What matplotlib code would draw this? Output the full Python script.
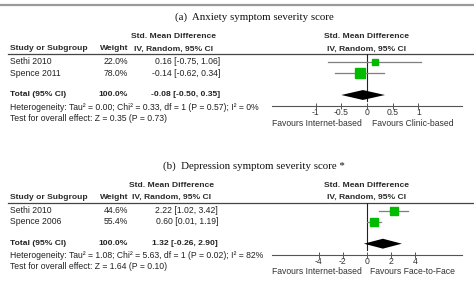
import matplotlib
matplotlib.use("Agg")
import matplotlib.pyplot as plt

# ---- data ----
a_studies = ["Sethi 2010", "Spence 2011"]
a_weights = [22.0, 78.0]
a_est = [0.16, -0.14]
a_lo = [-0.75, -0.62]
a_hi = [1.06, 0.34]
a_total = (-0.08, -0.50, 0.35)
a_het = "Heterogeneity: Tau² = 0.00; Chi² = 0.33, df = 1 (P = 0.57); I² = 0%"
a_test = "Test for overall effect: Z = 0.35 (P = 0.73)"
a_ticks = [-1, -0.5, 0, 0.5, 1]
a_ticklabels = ["-1", "-0.5", "0", "0.5", "1"]
a_fav = ("Favours Internet-based", "Favours Clinic-based")
a_title = "(a)  Anxiety symptom severity score"

b_studies = ["Sethi 2010", "Spence 2006"]
b_weights = [44.6, 55.4]
b_est = [2.22, 0.60]
b_lo = [1.02, 0.01]
b_hi = [3.42, 1.19]
b_total = (1.32, -0.26, 2.90)
b_het = "Heterogeneity: Tau² = 1.08; Chi² = 5.63, df = 1 (P = 0.02); I² = 82%"
b_test = "Test for overall effect: Z = 1.64 (P = 0.10)"
b_ticks = [-4, -2, 0, 2, 4]
b_ticklabels = ["-4", "-2", "0", "2", "4"]
b_fav = ("Favours Internet-based", "Favours Face-to-Face")
b_title = "(b)  Depression symptom severity score *"

W, H = 474, 283
SANS = "Liberation Sans"
SERIF = "Liberation Serif"
FS = 6.2     # regular table text
FSB = 6.1    # bold headers
TXT = "#222222"
GREEN = "#00BB00"
CI_GRAY = "#7F7F7F"
ROW_H = 11

fig = plt.figure(figsize=(W / 100, H / 100), dpi=100)
canvas = fig.add_axes([0, 0, 1, 1])
canvas.set_xlim(0, W)
canvas.set_ylim(H, 0)
canvas.axis("off")

# top border
canvas.plot([0, W], [4.5, 4.5], color="#9A9A9A", lw=1.6, solid_capstyle="butt")


def fmt_ci(e, lo, hi):
    return f"{e:.2f} [{lo:.2f}, {hi:.2f}]"


def panel(top, studies, weights, est, lo, hi, total, het, test, ticks, ticklabels,
          fav, title, xlim, ci_right, mid_col):
    # layout in pixel rows
    title_y = top
    hdr1_y = top + 20
    hdr2_y = top + 32
    line_y = top + 37
    row0 = top + 45

    def ry(r):
        return row0 + r * ROW_H

    canvas.text(254, title_y, title, family=SERIF, fontsize=7.8, color="#111111",
                ha="center", va="center")
    canvas.text(mid_col, hdr1_y, "Std. Mean Difference", family=SANS, fontsize=FSB,
                fontweight="bold", color="#2a2a2a", ha="center", va="center")
    canvas.text(mid_col, hdr2_y, "IV, Random, 95% CI", family=SANS, fontsize=FSB,
                fontweight="bold", color="#2a2a2a", ha="center", va="center")
    canvas.text(10, hdr2_y, "Study or Subgroup", family=SANS, fontsize=FSB,
                fontweight="bold", color="#2a2a2a", ha="left", va="center")
    canvas.text(128, hdr2_y, "Weight", family=SANS, fontsize=FSB,
                fontweight="bold", color="#2a2a2a", ha="right", va="center")
    canvas.text(367, hdr1_y, "Std. Mean Difference", family=SANS, fontsize=FSB,
                fontweight="bold", color="#2a2a2a", ha="center", va="center")
    canvas.text(367, hdr2_y, "IV, Random, 95% CI", family=SANS, fontsize=FSB,
                fontweight="bold", color="#2a2a2a", ha="center", va="center")
    canvas.plot([8, 473], [line_y, line_y], color="#444444", lw=0.9)

    for i, (s, w, e, l, h) in enumerate(zip(studies, weights, est, lo, hi)):
        canvas.text(10, ry(i), s, family=SANS, fontsize=FS, color=TXT,
                    ha="left", va="center")
        canvas.text(128, ry(i), f"{w:.1f}%", family=SANS, fontsize=FS, color=TXT,
                    ha="right", va="center")
        canvas.text(ci_right, ry(i), fmt_ci(e, l, h), family=SANS, fontsize=FS,
                    color=TXT, ha="right", va="center")

    canvas.text(10, ry(3), "Total (95% CI)", family=SANS, fontsize=FSB,
                fontweight="bold", color=TXT, ha="left", va="center")
    canvas.text(128, ry(3), "100.0%", family=SANS, fontsize=FSB,
                fontweight="bold", color=TXT, ha="right", va="center")
    canvas.text(ci_right, ry(3), fmt_ci(*total), family=SANS, fontsize=FSB,
                fontweight="bold", color=TXT, ha="right", va="center")
    canvas.text(10, ry(4.1), het, family=SANS, fontsize=FS, color=TXT,
                ha="left", va="center")
    canvas.text(10, ry(5.1), test, family=SANS, fontsize=FS, color=TXT,
                ha="left", va="center")

    # forest axes
    axis_y = ry(4.0)
    left, right = 272, 462
    ax = fig.add_axes([left / W, 1 - axis_y / H, (right - left) / W,
                       (axis_y - line_y) / H])
    ax.set_xlim(*xlim)
    ytop = -(row0 - line_y) / ROW_H
    ax.set_ylim(4.0, ytop)
    ax.patch.set_visible(False)
    for k in ("top", "left", "right"):
        ax.spines[k].set_visible(False)
    ax.spines["bottom"].set_color("#555555")
    ax.spines["bottom"].set_linewidth(0.8)
    ax.set_yticks([])
    ax.set_xticks(ticks)
    ax.set_xticklabels(ticklabels, family=SANS, fontsize=FS, color="#333333")
    ax.tick_params(axis="x", direction="inout", length=5, width=0.7,
                   colors="#555555", labelcolor="#333333", pad=-1)

    ax.plot([0, 0], [ytop, 3.55], color="#222222", lw=0.8)
    for i, (w, e, l, h) in enumerate(zip(weights, est, lo, hi)):
        ax.plot([l, h], [i, i], color=CI_GRAY, lw=0.9, zorder=2)
        ax.plot(e, i, marker="s", ms=(w ** 0.5) * 1.1 * 0.72, color=GREEN,
                mec=GREEN, zorder=3)
    te, tl, th = total
    ax.fill([tl, te, th, te], [3, 2.55, 3, 3.45], color="black", lw=0, zorder=3)

    canvas.text(317, axis_y + 17, fav[0], family=SANS, fontsize=FS, color="#333333",
                ha="center", va="center")
    canvas.text(413, axis_y + 17, fav[1], family=SANS, fontsize=FS, color="#333333",
                ha="center", va="center")


panel(17, a_studies, a_weights, a_est, a_lo, a_hi, a_total, a_het, a_test,
      a_ticks, a_ticklabels, a_fav, a_title, (-1.85, 1.85), 220, 174)
panel(165.7, b_studies, b_weights, b_est, b_lo, b_hi, b_total, b_het, b_test,
      b_ticks, b_ticklabels, b_fav, b_title, (-7.9, 7.9), 218, 172)

fig.savefig("out.png", dpi=100)
